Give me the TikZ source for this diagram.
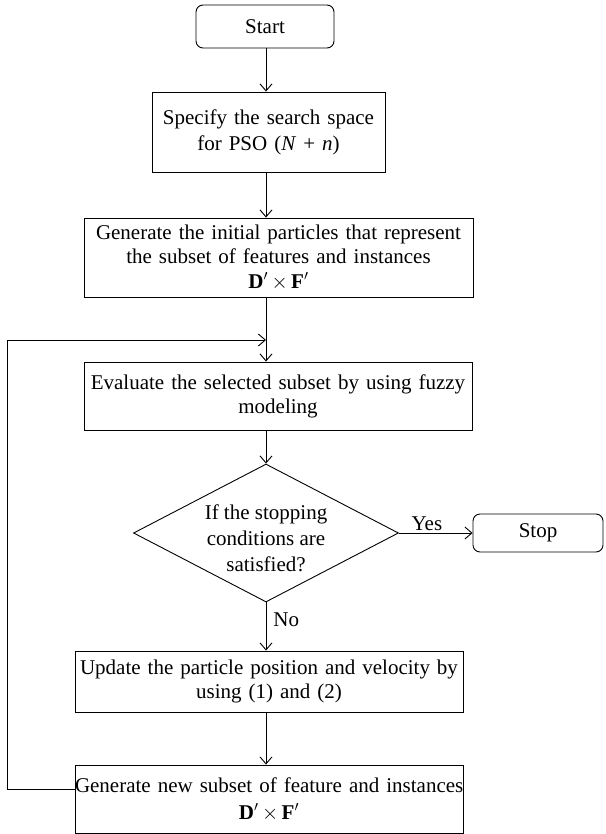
\documentclass[tikz,border=0pt]{standalone}
\usepackage{fontspec}
\setmainfont{Liberation Serif}
\usetikzlibrary{shapes.geometric,arrows.meta}
\newcommand{\dxf}{\textbf{D}$'$\,$\times$\,\textbf{F}$'$}
\begin{document}
\begin{tikzpicture}[x=1pt,y=-1pt,
  every node/.style={font=\fontsize{21pt}{24pt}\selectfont},
  box/.style={draw, line width=0.9pt, rectangle, inner xsep=0pt, inner ysep=0pt, align=center},
  term/.style={draw, line width=0.9pt, rectangle, rounded corners=7pt, inner sep=0pt},
  decision/.style={draw, line width=0.9pt, diamond, inner sep=0pt, align=center},
  arr/.style={line width=0.9pt, -{Straight Barb[length=7pt,width=12pt,line width=0.9pt]}},
  lbl/.style={inner sep=2pt}]
\useasboundingbox (0,0) rectangle (605,834);

% flow steps
\node[term, minimum width=138pt, minimum height=43pt] (start) at (265,26.5) {Start};
\node[box, text width=233pt, minimum height=80pt] (spec) at (268.5,132)
  {Specify the search space\\[2pt]for PSO (\textit{N} + \textit{n})};
\node[box, text width=389pt, minimum height=79pt] (init) at (278.5,257.5)
  {\mbox{Generate the initial particles that represent}\\the subset of features and instances\\[1pt]\dxf};
\node[box, text width=388pt, minimum height=68pt] (eval) at (278,396)
  {\mbox{Evaluate the selected subset by using fuzzy}\\modeling};
\node[decision, minimum width=265pt, minimum height=138pt,
  label={[name=dectext, align=center, yshift=-5pt]center:If the stopping\\[2pt]conditions are\\[2pt]satisfied?}] (dec) at (266,533) {};
\node[term, minimum width=130pt, minimum height=38pt] (stop) at (538,533) {Stop};
\node[box, text width=388pt, minimum height=61pt] (upd) at (269,681.5)
  {\mbox{Update the particle position and velocity by}\\using (1) and (2)};
\node[box, text width=388pt, minimum height=68pt] (gen) at (269,799)
  {\mbox{Generate new subset of feature and instances}\\[3pt]\dxf};

% helper points for the main spine and the feedback loop
\coordinate (spine) at (266,0);
\coordinate (looptop) at (7,340);
\coordinate (merge) at (266,340);

% connectors
\draw[arr] (start.south -| spine) -- (spec.north -| spine);
\draw[arr] (spec.south -| spine) -- (init.north -| spine);
\draw[arr] (init.south -| spine) -- (eval.north -| spine);
\draw[arr] (eval.south -| spine) -- (dec.north);
\draw[arr] (dec.east) -- node[lbl, pos=0.38, above] (yes) {Yes} (stop.west);
\draw[arr] (dec.south) -- node[lbl, pos=0.35, anchor=west, xshift=5pt] (no) {No} (upd.north -| dec.south);
\draw[arr] (upd.south -| spine) -- (gen.north -| spine);
\draw[arr] ([yshift=10pt]gen.west) -| (looptop) -- (merge);
\end{tikzpicture}
\end{document}
